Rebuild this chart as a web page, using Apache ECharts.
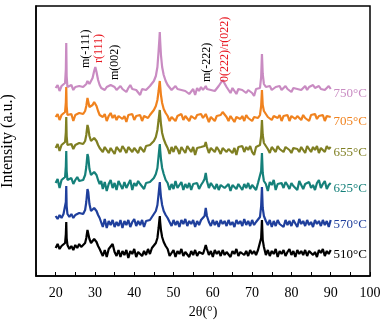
<!DOCTYPE html>
<html>
<head>
<meta charset="utf-8">
<script src="https://cdn.jsdelivr.net/npm/echarts@6/dist/echarts.min.js"></script>
<style>
  html, body { margin: 0; padding: 0; background: #fff; }
  #main { width: 383px; height: 320px; }
</style>
</head>
<body>
<div id="main"></div>
<script>
// 2θ positions (shared by every pattern)
var angles = [
  20, 20.5, 21, 21.5, 22, 22.4, 22.6, 22.7, 22.8, 23,
  23.5, 24, 24.5, 25, 25.5, 26, 26.5, 27, 27.5, 27.8,
  28.1, 28.3, 28.6, 29, 29.4, 29.8, 30.1, 30.4, 30.8, 31.2,
  31.6, 32, 32.5, 33, 33.5, 34, 34.5, 35, 35.5, 36,
  36.5, 37, 37.5, 38, 38.5, 39, 39.5, 40, 40.5, 41,
  41.5, 42, 42.5, 43, 43.5, 44, 44.5, 45, 45.5, 45.9,
  46.2, 46.4, 46.5, 46.6, 46.8, 47.1, 47.5, 48, 48.5, 49,
  49.5, 50, 50.5, 51, 51.5, 52, 52.5, 53, 53.5, 54,
  54.5, 55, 55.5, 56, 56.5, 57, 57.5, 57.9, 58.2, 58.5,
  59, 59.5, 60, 60.5, 61, 61.5, 62, 62.5, 63, 63.5,
  64, 64.5, 65, 65.5, 66, 66.5, 67, 67.5, 68, 68.5,
  69, 69.5, 70, 70.5, 71, 71.5, 72, 72.3, 72.5, 72.7,
  73, 73.5, 74, 74.5, 75, 75.5, 76, 76.5, 77, 77.5,
  78, 78.5, 79, 79.5, 80, 80.5, 81, 81.5, 82, 82.5,
  83, 83.5, 84, 84.5, 85, 85.5, 86, 86.5, 87, 87.5,
  88, 88.5, 89, 89.5, 90
];

var temps = ['510°C', '570°C', '625°C', '655°C', '705°C', '750°C'];
var colors = ['#000000', '#1f3f9c', '#15807a', '#7f7f22', '#f0821e', '#c98bc2'];
// vertical offset of each pattern (a.u.)
var offsets = [24, 54, 90, 126, 157, 185];

var i510 = [
  4, 8, 3, 6, 5, 9, 18, 30, 14, 7,
  3, 6, 2, 7, 4, 8, 5, 3, 9, 14,
  22, 20, 13, 9, 10, 13, 14, 10, 6, 3,
  5, -4, 2, -5, 3, 1, 8, 0, -4, 2,
  -5, 1, -3, 2, -6, 1, -2, 3, -5, 0,
  2, -4, 1, -3, 3, -2, 4, 6, 9, 14,
  24, 32, 36, 30, 22, 15, 10, 6, 3, -4,
  -3, 2, -5, 1, -2, 3, -4, 0, 2, -5,
  1, -3, 2, -4, 0, 2, -2, 3, 7, 3,
  -3, 1, -5, 2, -2, 1, -4, 2, -3, 0,
  2, -5, 1, -2, 3, -4, 0, 2, -3, 1,
  -4, 2, -2, 1, -3, 2, 4, 14, 32, 12,
  5, -3, 2, -4, 1, -2, 3, -5, 1, -2,
  2, -4, 0, 3, -3, 1, -5, 2, -2, 1,
  -3, 2, -4, 1, 3, -3, 0, -5, 2, -1,
  3, -4, 1, -2, 2
];
var i570 = [
  6, 3, 7, 4, 8, 10, 20, 36, 16, 8,
  5, 8, 4, 7, 6, 9, 7, 8, 12, 20,
  33, 30, 18, 11, 12, 14, 15, 11, 7, 4,
  2, -5, 3, -6, 1, -3, 2, -5, 0, -4,
  2, -6, 1, -3, 2, -5, 0, 3, -4, 1,
  -3, 2, -5, 1, 3, 2, 5, 7, 11, 17,
  28, 36, 40, 34, 25, 17, 11, 7, 4, 0,
  -4, 2, -3, 1, -5, 2, -2, 3, -4, 1,
  -2, 2, -5, 1, -3, 2, 0, 6, 14, 6,
  0, -4, 2, -3, 1, -5, 2, -2, 1, -4,
  2, -3, 0, -5, 2, -2, 1, -4, 3, -3,
  1, -4, 2, -3, 0, 2, 5, 16, 35, 14,
  6, 1, -3, 2, -5, 1, -4, 2, -2, 0,
  -5, 2, -3, 1, -4, 2, 0, -5, 3, -2,
  1, -4, 2, -3, 0, -5, 2, -2, 1, -4,
  2, -3, 1, -5, 2
];
var i625 = [
  3, 7, -2, 6, 5, 9, 20, 35, 15, 6,
  4, 8, 2, 6, 9, 5, 7, 6, 11, 19,
  32, 29, 17, 11, 12, 14, 14, 11, 6, 2,
  5, -3, 4, -5, 2, 6, -2, 3, -4, 5,
  1, -3, 4, -2, 2, 6, -4, 3, 0, 5,
  2, 4, -3, 3, 5, 4, 6, 8, 12, 18,
  30, 38, 42, 36, 27, 18, 12, 6, 3, -4,
  2, -3, 5, -2, 1, 4, -4, 2, -2, 3,
  -4, 2, 0, 3, -3, 1, 4, 7, 13, 5,
  -2, 3, 0, -3, 2, -4, 1, 3, -2, 0,
  2, -5, 1, 3, -3, 2, 0, -4, 2, -2,
  3, -3, 1, 2, -4, 3, 5, 15, 33, 13,
  5, 2, -5, 4, 1, 6, -4, 2, 0, 3,
  -2, 4, 1, -3, 3, 0, 2, -4, 5, 1,
  -3, 2, 0, 4, -2, 1, -4, 3, 6, -2,
  2, 5, -3, 1, 3
];
var i655 = [
  2, 6, -1, 5, 4, 8, 18, 33, 14, 5,
  3, 6, 1, 5, 4, 7, 5, 6, 9, 15,
  25, 22, 14, 9, 10, 12, 13, 9, 5, 2,
  4, -2, 3, 5, -3, 2, 4, -4, 3, 1,
  -2, 4, 1, -3, 3, 5, -2, 2, 4, -3,
  3, 1, -2, 4, 2, 5, 6, 9, 13, 20,
  30, 37, 40, 35, 26, 17, 11, 6, 2, -4,
  3, -2, 4, 1, -4, 3, 2, -3, 4, 1,
  -2, 3, -5, 2, 0, 3, 1, 4, 8, 3,
  -3, 2, 4, -2, 3, 0, -4, 2, 3, -2,
  1, 3, -3, 2, -5, 3, 1, 4, -2, 3,
  0, 4, -2, -5, 3, 2, 5, 14, 30, 15,
  7, 4, 1, -3, 3, 2, -2, 4, 1, 3,
  -2, 3, 4, 0, -3, 2, 4, 1, -2, 3,
  2, -3, 4, 1, -2, 3, 0, 4, -3, 2,
  3, -2, 4, 1, 3
];
var i705 = [
  2, 5, -1, 4, 3, 7, 17, 32, 13, 4,
  2, 5, -2, 4, 3, 6, 4, 5, 8, 13,
  21, 19, 12, 11, 14, 17, 17, 13, 8, 4,
  6, 2, 5, -2, 3, 6, 1, 4, -1, 3,
  5, 0, 3, -3, 4, 2, 5, -1, 3, 1,
  4, -2, 3, 5, 1, 4, 6, 9, 13, 19,
  28, 35, 38, 33, 24, 16, 10, 6, 3, -2,
  2, 4, -2, 3, 1, 5, -1, 3, 4, -2,
  3, 5, 0, 4, 2, 5, 1, 3, 5, 2,
  -3, 2, 4, -2, 3, 1, 4, 7, 5, 2,
  -2, 3, 1, -3, 2, 4, 0, 3, -2, 4,
  1, 3, -2, 2, 4, 1, 4, 13, 29, 14,
  8, 5, 2, 4, -1, 3, 5, 1, 4, -2,
  3, 1, 4, -2, 3, 5, 0, 3, 2, -1,
  4, 1, 3, -2, 4, 2, 5, 0, 3, 1,
  4, -2, 3, 1, 2
];
var i750 = [
  3, 6, 0, 5, 4, 8, 22, 48, 15, 4,
  3, 6, 1, 4, 2, 5, 3, 4, 6, 7,
  10, 9, 7, 8, 13, 20, 24, 19, 11, 6,
  3, 5, 1, 4, 2, 6, 8, 4, 1, 3,
  5, 2, 4, -1, 3, 6, 2, 4, 1, 3,
  -4, 2, 4, 1, 3, 5, 7, 10, 15, 24,
  40, 52, 59, 50, 36, 24, 16, 10, 6, 4,
  1, 3, 5, 2, 4, 1, 3, 0, 2, -3,
  -5, 2, -4, 3, 0, 4, 1, 3, 5, 2,
  4, 1, 3, 0, 2, 5, 8, 11, 9, 4,
  2, -2, 3, 1, -3, 2, 4, 1, 3, -2,
  1, 3, -2, -5, 2, 1, 3, 14, 37, 17,
  7, 4, 2, 5, 1, 3, 4, 2, 5, 1,
  3, 5, 2, 4, -1, 3, 5, 2, 4, 1,
  3, 5, 1, 4, 2, 6, 3, 1, 5, 2,
  4, 1, 3, 5, 2
];
var patterns = [i510, i570, i625, i655, i705, i750];

var xTicks = [20, 30, 40, 50, 60, 70, 80, 90, 100];

var serif = 'Liberation Serif';

var series = patterns.map(function (vals, k) {
  return {
    name: temps[k],
    type: 'line',
    showSymbol: false,
    symbol: 'none',
    animation: false,
    lineStyle: { color: colors[k], width: 2.2 },
    z: 2 + k,
    data: vals.map(function (v, j) { return [angles[j], v + offsets[k]]; })
  };
});

var chartDom = document.getElementById('main');
var myChart = echarts.init(chartDom);
var option = {
  animation: false,
  grid: {
    left: 36, right: 13, top: 6, bottom: 44,
    containLabel: false,
    outerBoundsMode: 'none',
    show: true,
    borderColor: '#000',
    borderWidth: 1.5,
    backgroundColor: 'transparent'
  },
  xAxis: {
    type: 'value',
    min: 15,
    max: 100,
    interval: 5,
    name: '2θ(°)',
    nameLocation: 'middle',
    nameGap: 27,
    nameTextStyle: { fontFamily: serif, fontSize: 14, color: '#000' },
    axisLine: { show: true, lineStyle: { color: '#000', width: 1.5 } },
    axisTick: { show: true, inside: true, length: 4, lineStyle: { color: '#000' } },
    splitLine: { show: false },
    axisLabel: {
      margin: 10,
      fontFamily: serif,
      fontSize: 14,
      color: '#000',
      showMaxLabel: true,
      formatter: function (v) { return xTicks.indexOf(v) >= 0 ? String(v) : ''; }
    }
  },
  yAxis: {
    type: 'value',
    min: 0,
    max: 270,
    name: 'Intensity (a.u.)',
    nameLocation: 'middle',
    nameGap: 20,
    nameRotate: 90,
    nameTextStyle: { fontFamily: serif, fontSize: 16, color: '#000' },
    axisLine: { show: true, lineStyle: { color: '#000', width: 1.5 } },
    axisTick: { show: false },
    axisLabel: { show: false },
    splitLine: { show: false }
  },
  series: series
};
myChart.setOption(option);

// temperature labels next to each pattern
var graphics = temps.map(function (t, k) {
  var p = myChart.convertToPixel({ gridIndex: 0 }, [90.7, offsets[k]]);
  return {
    type: 'text',
    x: p[0],
    y: p[1] + 3,
    z: 20,
    style: {
      text: t,
      fill: colors[k],
      font: '13px "Liberation Serif"',
      textAlign: 'left',
      textVerticalAlign: 'middle'
    }
  };
});

// peak assignments (vertical text)
var peakNotes = [
  { text: 'm(-111)', color: '#000', at: [86, 68] },
  { text: 'r(111)', color: '#e8141e', at: [99, 63] },
  { text: 'm(002)', color: '#000', at: [115, 80] },
  { text: 'm(-222)', color: '#000', at: [207, 82] },
  { text: '0(222)/r(022)', color: '#e8141e', at: [225, 82] }
];
peakNotes.forEach(function (n) {
  graphics.push({
    type: 'text',
    x: n.at[0],
    y: n.at[1],
    rotation: Math.PI / 2,
    z: 20,
    style: {
      text: n.text,
      fill: n.color,
      font: '12px "Liberation Serif"',
      textAlign: 'left',
      textVerticalAlign: 'middle'
    }
  });
});
myChart.setOption({ graphic: graphics });

window.addEventListener('resize', function () {
  myChart.resize();
});
</script>
</body>
</html>
